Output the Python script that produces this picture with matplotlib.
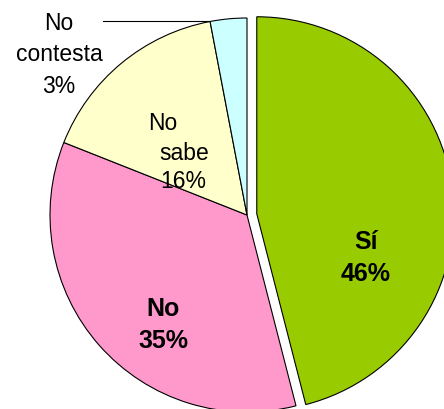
import numpy as np
import matplotlib
matplotlib.use("Agg")
import matplotlib.pyplot as plt

categories = ["Sí", "No", "No sabe", "No contesta"]
values = [46, 35, 16, 3]
colors = ["#99CC00", "#FF99CC", "#FFFFCC", "#CCFFFF"]

plt.rcParams['font.family'] = ['Liberation Sans', 'DejaVu Sans']

fig = plt.figure(figsize=(4.44, 4.10), dpi=100)
ax = fig.add_axes([0, 0, 1, 1])

# pie geometry in pixels (center and radius), converted to axis limits
cx, cy, r = 247, 216, 197
W, H = 444, 410

wedges, _ = ax.pie(values, colors=colors, startangle=90, counterclock=False,
                   explode=[0.05, 0, 0, 0], radius=1,
                   wedgeprops=dict(edgecolor='black', linewidth=0.8))

ax.set_xlim(-cx / r, (W - cx) / r)
ax.set_ylim(-(H - cy) / r, cy / r)
ax.set_aspect('equal')
ax.axis('off')

def pc(px, py):
    return (px - cx) / r, (cy - py) / r

fs = 16.5
fsb = 18
pct = [f"{v}%" for v in values]

ax.text(*pc(366, 258), f"{categories[0]}\n{pct[0]}", ha='center', va='center',
        fontsize=fsb, fontweight='bold', linespacing=1.4)
ax.text(*pc(163, 325), f"{categories[1]}\n{pct[1]}", ha='center', va='center',
        fontsize=fsb, fontweight='bold', linespacing=1.47)

w1, w2 = categories[2].split()
ax.text(*pc(163, 124), w1, ha='center', va='center', fontsize=fs)
ax.text(*pc(184, 154), w2, ha='center', va='center', fontsize=fs)
ax.text(*pc(183, 182), pct[2], ha='center', va='center', fontsize=fs)

ax.text(*pc(59, 55), "No\ncontesta\n" + pct[3], ha='center', va='center',
        fontsize=fs, linespacing=1.48)

# leader line from label to the edge of the small slice
ang = np.deg2rad(90 + 360 * values[3] / sum(values))
ex, ey = np.cos(ang), np.sin(ang)
lx, ly = pc(103, 21)
ax.plot([lx, ex], [ey, ey], color='black', linewidth=0.8)

fig.savefig("out.png", dpi=100)
